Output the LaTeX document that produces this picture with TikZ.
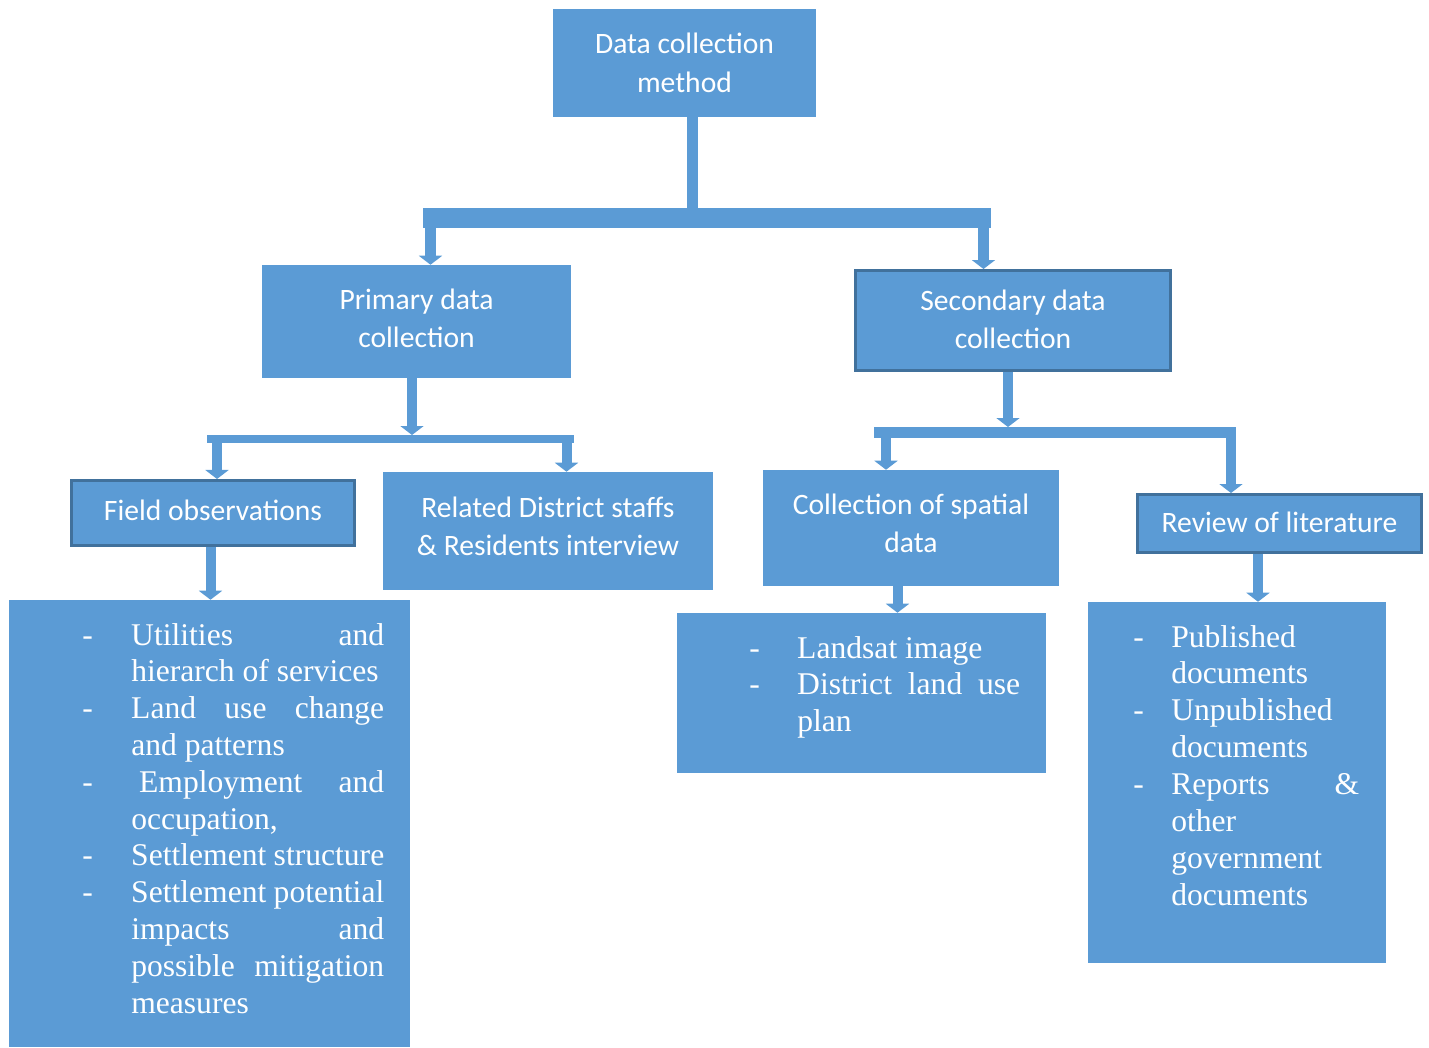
\documentclass[tikz,border=0pt]{standalone}
\usepackage{fontspec}
\usetikzlibrary{arrows.meta}
\newfontfamily\hdrfont{Carlito}
\newfontfamily\listfont{Liberation Serif}
\definecolor{fillb}{HTML}{5B9BD5}
\definecolor{edgeb}{HTML}{41719C}
\newlength\lind \newlength\ltw
\newcommand\firstl[1]{\hbox{\hbox to\lind{-\hfil}\hbox to\ltw{#1}}}
\newcommand\nextl[1]{\hbox{\hskip\lind\hbox to\ltw{#1}}}
\begin{document}
\begin{tikzpicture}[x=0.75pt,y=-0.75pt,
  box/.style={fill=fillb, draw=none, inner sep=0pt, text=white, align=center,
    font=\hdrfont\fontsize{22.2pt}{28.9pt}\selectfont},
  bbox/.style={box, draw=edgeb, line width=2.025pt},
  listtxt/.style={inner sep=0pt, anchor=base west, text=white,
    font=\listfont\fontsize{23.7pt}{27.56pt}\selectfont},
  bar/.style={draw=fillb, line cap=butt},
  arr/.style={draw=fillb, line width=7.5pt, line cap=butt,
    -{Triangle[width=17.25pt,length=6.75pt]}}]
\useasboundingbox (0,0) rectangle (1429,1047);

% boxes
\node[box, minimum width=197.25pt, minimum height=81pt] (dcm) at (684.5,63) {Data collection\\method};
\node[box, minimum width=231.75pt, minimum height=84.75pt, text depth=5.25pt] (prim) at (416.5,321.5) {Primary data\\collection};
\node[bbox, minimum width=236.5pt, minimum height=75.2pt, text depth=2.25pt] (sec) at (1013,320.5) {Secondary data\\collection};
\node[bbox, minimum width=212.5pt, minimum height=49pt, text depth=4.5pt] (fobs) at (213,513) {Field observations};
\node[box, minimum width=247.5pt, minimum height=88.5pt, text depth=7.5pt] (rel) at (548,531) {Related District staffs\\\& Residents interview};
\node[box, minimum width=222pt, minimum height=87pt, text depth=7.5pt] (spat) at (911,528) {Collection of spatial\\data};
\node[bbox, minimum width=213.2pt, minimum height=43.7pt, text depth=1.5pt] (rev) at (1279.5,523.5) {Review of literature};
\node[box, minimum width=300.75pt, minimum height=335.25pt] (flist) at (209.5,823.5) {};
\node[box, minimum width=276.75pt, minimum height=120pt] (lsat) at (861.5,693) {};
\node[box, minimum width=223.5pt, minimum height=270.75pt] (lit) at (1237,782.5) {};

% list texts
\node[listtxt] (flistt) at (82,645) {\setlength\lind{36.75pt}\setlength\ltw{189.75pt}\vtop{\baselineskip=27.6pt
  \firstl{Utilities and}
  \nextl{hierarch of services\hfil}
  \firstl{Land use change}
  \nextl{and patterns\hfil}
  \firstl{\hskip0.25em Employment and}
  \nextl{occupation,\hfil}
  \firstl{Settlement structure}
  \firstl{Settlement potential}
  \nextl{impacts and}
  \nextl{possible mitigation}
  \nextl{measures\hfil}}};
\node[listtxt] (lsatt) at (749,658) {\setlength\lind{36pt}\setlength\ltw{167.25pt}\vtop{\baselineskip=27.6pt
  \firstl{Landsat image\hfil}
  \firstl{District land use}
  \nextl{plan\hfil}}};
\node[listtxt] (litt) at (1133,647) {\setlength\lind{28.5pt}\setlength\ltw{141pt}\vtop{\baselineskip=27.65pt
  \firstl{Published\hfil}
  \nextl{documents\hfil}
  \firstl{Unpublished\hfil}
  \nextl{documents\hfil}
  \firstl{Reports \&}
  \nextl{other\hfil}
  \nextl{government\hfil}
  \nextl{documents\hfil}}};

% level 1 connectors
\coordinate (j1) at (692,208);
\draw[bar, line width=8.25pt] (dcm.south -| j1) -- (j1);
\coordinate (b1l) at (423,218);
\coordinate (b1r) at (991,218);
\draw[bar, line width=15pt] (b1l) -- (b1r);
\coordinate (p1) at (430.5,228);
\draw[arr, line width=8.25pt] (p1) -- (p1 |- prim.north);
\coordinate (s1) at (983.5,228);
\draw[arr, line width=8.25pt] (s1) -- (s1 |- sec.north);

% primary
\coordinate (j2) at (412,435);
\draw[arr] (prim.south -| j2) -- (j2);
\coordinate (b2l) at (207,439);
\coordinate (b2r) at (574,439);
\draw[bar, line width=6pt] (b2l) -- (b2r);
\coordinate (p2) at (217,443);
\draw[arr] (p2) -- (p2 |- fobs.north);
\coordinate (p3) at (566.5,443);
\draw[arr] (p3) -- (p3 |- rel.north);

% secondary
\coordinate (j3) at (1008,427);
\draw[arr] (sec.south -| j3) -- (j3);
\coordinate (b3l) at (874,432.5);
\coordinate (b3r) at (1236,432.5);
\draw[bar, line width=8.25pt] (b3l) -- (b3r);
\coordinate (s2) at (886,438);
\draw[arr] (s2) -- (s2 |- spat.north);
\coordinate (s3) at (1231,427);
\draw[arr] (s3) -- (s3 |- rev.north);

% leaves
\coordinate (f1) at (210.5,600);
\draw[arr] (fobs.south -| f1) -- (f1 |- flist.north);
\coordinate (g1) at (897.5,613);
\draw[arr] (spat.south -| g1) -- (g1 |- lsat.north);
\coordinate (h1) at (1258,602);
\draw[arr] (rev.south -| h1) -- (h1 |- lit.north);
\end{tikzpicture}
\end{document}
